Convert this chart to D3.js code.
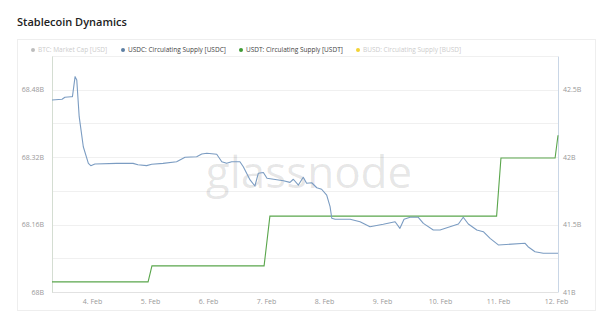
<!DOCTYPE html>
<html>
<head>
<meta charset="utf-8">
<script src="https://cdn.jsdelivr.net/npm/d3@7/dist/d3.min.js"></script>
<style>
  body { margin: 0; background: #fff; font-family: "Open Sans", "Noto Sans", sans-serif; }
  svg { display: block; }
</style>
</head>
<body>
<div id="chart"></div>
<script>
// hours since 3 Feb 2023 00:00 UTC, values in billions
const usdcHours = [7.45, 11.6, 12.8, 15.3, 15.9, 17.0, 17.7, 18.7, 20.4, 22.5, 23.5, 25.2, 34.2, 41.0, 43.0, 46.6,
  48.7, 53.4, 59.0, 62.5, 67.3, 69.4, 71.5, 75.6, 77.7, 79.7, 81.8, 85.2, 86.6, 89.4, 91.4, 92.8, 94.9, 96.4,
  103.2, 105.9, 107.3, 109.4, 111.4, 112.8, 114.9, 117.0, 119.0, 121.1, 122.5, 123.2, 124.6, 130.8, 134.9, 139.0,
  144.5, 149.4, 151.4, 153.1, 155.6, 159.0, 161.1, 165.2, 168.0, 172.1, 175.6, 177.6, 179.7, 183.2, 185.9, 188.7,
  192.1, 203.2, 204.4, 207.3, 210.7, 216.8];
const usdcValues = [42.424, 42.429, 42.444, 42.448, 42.448, 42.597, 42.572, 42.300, 42.077, 41.954, 41.937, 41.949, 41.954, 41.954, 41.944, 41.937,
  41.947, 41.954, 41.966, 41.999, 42.003, 42.023, 42.029, 42.021, 41.966, 41.954, 41.966, 41.966, 41.929, 41.831, 41.786, 41.880, 41.886, 41.843,
  41.825, 41.813, 41.836, 41.793, 41.851, 41.806, 41.810, 41.773, 41.762, 41.719, 41.633, 41.547, 41.539, 41.539, 41.521, 41.484,
  41.502, 41.521, 41.472, 41.539, 41.554, 41.554, 41.509, 41.460, 41.460, 41.484, 41.504, 41.554, 41.504, 41.460, 41.447, 41.398,
  41.349, 41.361, 41.336, 41.299, 41.287, 41.287];

const usdtHours = [7.45, 47.2, 48.8, 95.2, 97.6, 191.4, 193.2, 215.6, 216.8];
const usdtValues = [68.024, 68.024, 68.062, 68.062, 68.180, 68.180, 68.318, 68.318, 68.372];

const dayTicks = ["2023-02-04", "2023-02-05", "2023-02-06", "2023-02-07", "2023-02-08", "2023-02-09", "2023-02-10", "2023-02-11", "2023-02-12"];
const leftTicks = [68, 68.16, 68.32, 68.48];
const rightTicks = [41, 41.5, 42, 42.5];

const legendItems = [
  {name: "BTC: Market Cap [USD]", color: "#bdbdbd", off: true},
  {name: "USDC: Circulating Supply [USDC]", color: "#5d7fa3", off: false},
  {name: "USDT: Circulating Supply [USDT]", color: "#3f9a35", off: false},
  {name: "BUSD: Circulating Supply [BUSD]", color: "#f2d335", off: true}
];

const base = Date.UTC(2023, 1, 3);
const toDate = h => new Date(base + h * 3600000);

const W = 600, H = 318;
const plot = {left: 52, right: 558, top: 56, bottom: 292};

const svg = d3.select("#chart").append("svg")
  .attr("width", W).attr("height", H);

svg.append("text")
  .attr("x", 17).attr("y", 26)
  .attr("font-size", 11).attr("font-weight", 600)
  .attr("fill", "#222")
  .text("Stablecoin Dynamics");

svg.append("rect")
  .attr("x", 17.5).attr("y", 39.5).attr("width", 578).attr("height", 271)
  .attr("fill", "none").attr("stroke", "#eeeeee");

var x = d3.scaleUtc()
  .domain([toDate(7.45), toDate(216.8)])
  .range([plot.left, plot.right]);

var yL = d3.scaleLinear().domain([68, 68.56]).range([plot.bottom, plot.top]);
var yR = d3.scaleLinear().domain([41, 42.75]).range([plot.bottom, plot.top]);

// gridlines every 0.08B
svg.append("g")
  .selectAll("line")
  .data(d3.range(1, 8).map(i => 68 + i * 0.08))
  .enter().append("line")
  .attr("x1", plot.left).attr("x2", plot.right)
  .attr("y1", d => Math.round(yL(d)) + 0.5).attr("y2", d => Math.round(yL(d)) + 0.5)
  .attr("stroke", "#f0f0f0");

svg.append("line")
  .attr("x1", plot.left).attr("x2", plot.right)
  .attr("y1", plot.bottom + 0.5).attr("y2", plot.bottom + 0.5)
  .attr("stroke", "#e2e2e2");

// axes
var axL = svg.append("g")
  .attr("transform", "translate(" + plot.left + ",0)")
  .call(d3.axisLeft(yL).tickValues(leftTicks).tickSize(0).tickPadding(8)
    .tickFormat(d => (+d.toFixed(2)) + "B"));
axL.select(".domain").attr("stroke", "#d4ddd2");

var axR = svg.append("g")
  .attr("transform", "translate(" + plot.right + ",0)")
  .call(d3.axisRight(yR).tickValues(rightTicks).tickSize(0).tickPadding(5)
    .tickFormat(d => d + "B"));
axR.select(".domain").attr("stroke", "#c9d6e6");

var axX = svg.append("g")
  .attr("transform", "translate(0," + plot.bottom + ")")
  .call(d3.axisBottom(x).tickValues(dayTicks.map(d => new Date(d + "T00:00:00Z")))
    .tickSize(0).tickPadding(7).tickFormat(d3.utcFormat("%-d. %b")));
axX.select(".domain").remove();

svg.selectAll(".tick text")
  .attr("fill", "#999")
  .attr("font-size", 7)
  .attr("font-family", "\"Open Sans\", sans-serif");

// watermark
svg.append("text")
  .attr("x", 309).attr("y", 188)
  .attr("text-anchor", "middle")
  .attr("font-size", 44)
  .attr("font-family", "\"Open Sans\", sans-serif")
  .attr("fill", "#000").attr("fill-opacity", 0.1)
  .text("glassnode");

// lines
var usdc = usdcHours.map((h, i) => ({t: toDate(h), v: usdcValues[i]}));
var usdt = usdtHours.map((h, i) => ({t: toDate(h), v: usdtValues[i]}));

svg.append("path")
  .datum(usdt)
  .attr("fill", "none")
  .attr("stroke", "#5aa64c")
  .attr("stroke-width", 1.1)
  .attr("d", d3.line().x(d => x(d.t)).y(d => yL(d.v)));

svg.append("path")
  .datum(usdc)
  .attr("fill", "none")
  .attr("stroke", "#7b9cc2")
  .attr("stroke-width", 1.1)
  .attr("stroke-linejoin", "round")
  .attr("d", d3.line().x(d => x(d.t)).y(d => yR(d.v)));

// legend
var legX = [33, 123, 241, 358];
var leg = svg.append("g").selectAll("g")
  .data(legendItems)
  .enter().append("g")
  .attr("transform", (d, i) => "translate(" + legX[i] + ",50)");
leg.append("circle").attr("r", 2).attr("fill", d => d.color);
leg.append("text")
  .attr("x", 5).attr("y", 2.3)
  .attr("font-size", 6.5)
  .attr("fill", d => d.off ? "#cccccc" : "#444")
  .text(d => d.name);
</script>
</body>
</html>
